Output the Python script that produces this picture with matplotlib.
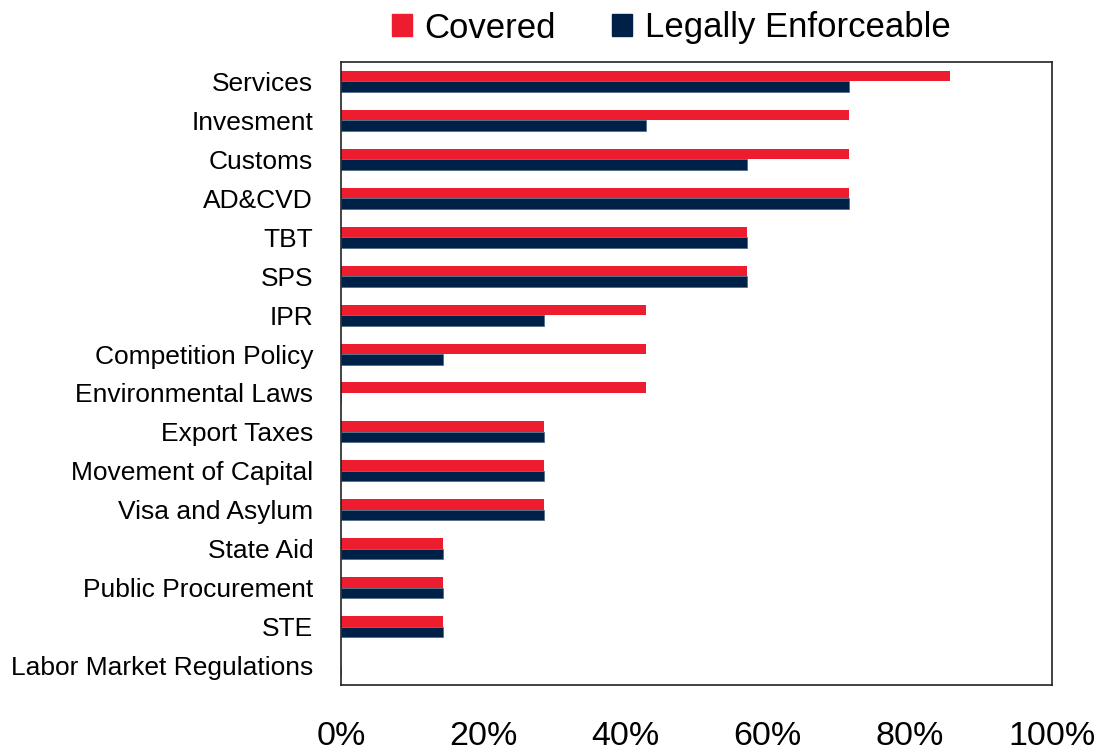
import matplotlib.pyplot as plt
from matplotlib.patches import Patch
import numpy as np

plt.rcParams['font.family'] = ['Liberation Sans', 'DejaVu Sans']

categories = ["Services", "Invesment", "Customs", "AD&CVD", "TBT", "SPS", "IPR",
              "Competition Policy", "Environmental Laws", "Export Taxes",
              "Movement of Capital", "Visa and Asylum", "State Aid",
              "Public Procurement", "STE", "Labor Market Regulations"]
covered = [85.7, 71.4, 71.4, 71.4, 57.1, 57.1, 42.9, 42.9, 42.9, 28.6, 28.6, 28.6,
           14.3, 14.3, 14.3, 0]
enforceable = [71.4, 42.9, 57.1, 71.4, 57.1, 57.1, 28.6, 14.3, 0, 28.6, 28.6, 28.6,
               14.3, 14.3, 14.3, 0]
xticks = [0, 20, 40, 60, 80, 100]

red = "#ED1C2E"
navy = "#002147"

fig = plt.figure(figsize=(11.02, 7.54), dpi=100)
ax = fig.add_axes([0.3094, 0.0915, 0.6452, 0.8263])

y = np.arange(len(categories))
h = 0.27
ax.barh(y - h / 2, covered, height=h, color=red)
ax.barh(y + h / 2, enforceable, height=h, color=navy, edgecolor="#4a6580", linewidth=0.5)

ax.set_xlim(0, 100)
ax.set_ylim(len(categories) - 0.5, -0.5)
ax.set_yticks(y)
ax.set_yticklabels(categories, fontsize=19)
ax.set_xticks(xticks)
ax.set_xticklabels([f"{t}%" for t in xticks], fontsize=24.5)
ax.tick_params(axis="both", length=0)
ax.tick_params(axis="y", pad=20)
ax.tick_params(axis="x", pad=26)
for s in ax.spines.values():
    s.set_color("#222222")
    s.set_linewidth(1.2)

handles = [Patch(color=red, label="Covered"), Patch(color=navy, label="Legally Enforceable")]
fig.legend(handles=handles, loc="center", bbox_to_anchor=(671 / 1102, 1 - 28 / 754),
           ncol=2, frameon=False, fontsize=25, handlelength=0.6, handleheight=0.6,
           handletextpad=0.35, columnspacing=1.6)

fig.savefig("out.png", dpi=100)
